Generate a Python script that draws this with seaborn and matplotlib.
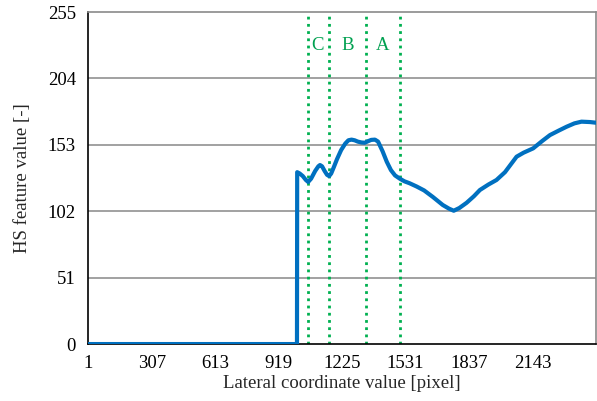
import matplotlib
matplotlib.use("Agg")
import matplotlib.pyplot as plt
import seaborn as sns
import pandas as pd

# values
lateral_px = [1, 1007, 1008, 1020, 1035, 1050, 1061, 1075, 1095, 1110, 1118, 1128, 1140,
              1152, 1162, 1172, 1185, 1200, 1220, 1240, 1255, 1270, 1285, 1300, 1318,
              1334, 1350, 1365, 1383, 1398, 1420, 1440, 1460, 1480, 1503, 1525, 1550,
              1584, 1620, 1662, 1710, 1740, 1763, 1790, 1825, 1860, 1889, 1930, 1969,
              2010, 2066, 2100, 2146, 2190, 2227, 2270, 2307, 2345, 2379, 2420, 2448]
hs_value = [0, 0, 132, 131, 129, 126, 124.5, 127, 133, 136.5, 137.5, 136.5, 133,
            130, 129, 131, 136, 142, 149, 154, 156.5, 157, 156.5, 155.5, 154.8,
            154.6, 155.8, 156.8, 157, 155.5, 148, 140, 133.6, 129.5, 127, 125, 123.5,
            121, 118, 113, 106.8, 104, 102.4, 104.5, 108.5, 113.5, 118.3, 122.5, 126,
            132, 143.9, 147, 150.3, 156, 160.5, 164, 166.9, 169.5, 170.8, 170.5, 170]

zone_bounds = [1061, 1162, 1338, 1503]
zone_names = ["C", "B", "A"]
zone_label_x = [1108, 1253, 1420]

x_ticks = [1 + 153 * i for i in range(16)]
x_tick_labels = ["1", "307", "613", "919", "1225", "1531", "1837", "2143"]
y_ticks = [0, 51, 102, 153, 204, 255]

df = pd.DataFrame({"x": lateral_px, "y": hs_value})

sns.set_style("white")
plt.rcParams["font.family"] = ["Liberation Serif", "DejaVu Serif"]

fig = plt.figure(figsize=(5.97, 4.01), dpi=100)
ax = fig.add_axes([0.148, 0.142, 0.850, 0.828])

for yv in y_ticks[1:-1]:
    ax.axhline(yv, color="#9a9a9a", lw=1.3, zorder=1)

for xb in zone_bounds:
    ax.axvline(xb, color="#00B050", lw=2, ls=(0, (1, 1.6)), zorder=2)
for name, xl in zip(zone_names, zone_label_x):
    ax.text(xl, 229, name, color="#00A050", fontsize=13.5, ha="center", va="center")

sns.lineplot(data=df, x="x", y="y", ax=ax, color="#0070C0", lw=3, zorder=3)

ax.set_xlim(1, 2448)
ax.set_ylim(0, 255)
ax.set_xticks(x_ticks)
ax.set_xticklabels([x_tick_labels[i // 2] if i % 2 == 0 else "" for i in range(len(x_ticks))])
ax.set_yticks(y_ticks)
ax.tick_params(axis="both", direction="out", length=5, width=1, labelsize=13.5, colors="black")
ax.tick_params(axis="x", pad=3)
ax.tick_params(axis="y", pad=4)

ax.set_xlabel("Lateral coordinate value [pixel]", fontsize=13.5, labelpad=2)
ax.set_ylabel("HS feature value [-]", fontsize=13.5, labelpad=12)

for side in ["left", "bottom"]:
    ax.spines[side].set_color("black")
    ax.spines[side].set_linewidth(1.2)
for side in ["top", "right"]:
    ax.spines[side].set_color("#8a8a8a")
    ax.spines[side].set_linewidth(1.2)

fig.savefig("out.png", dpi=100)
